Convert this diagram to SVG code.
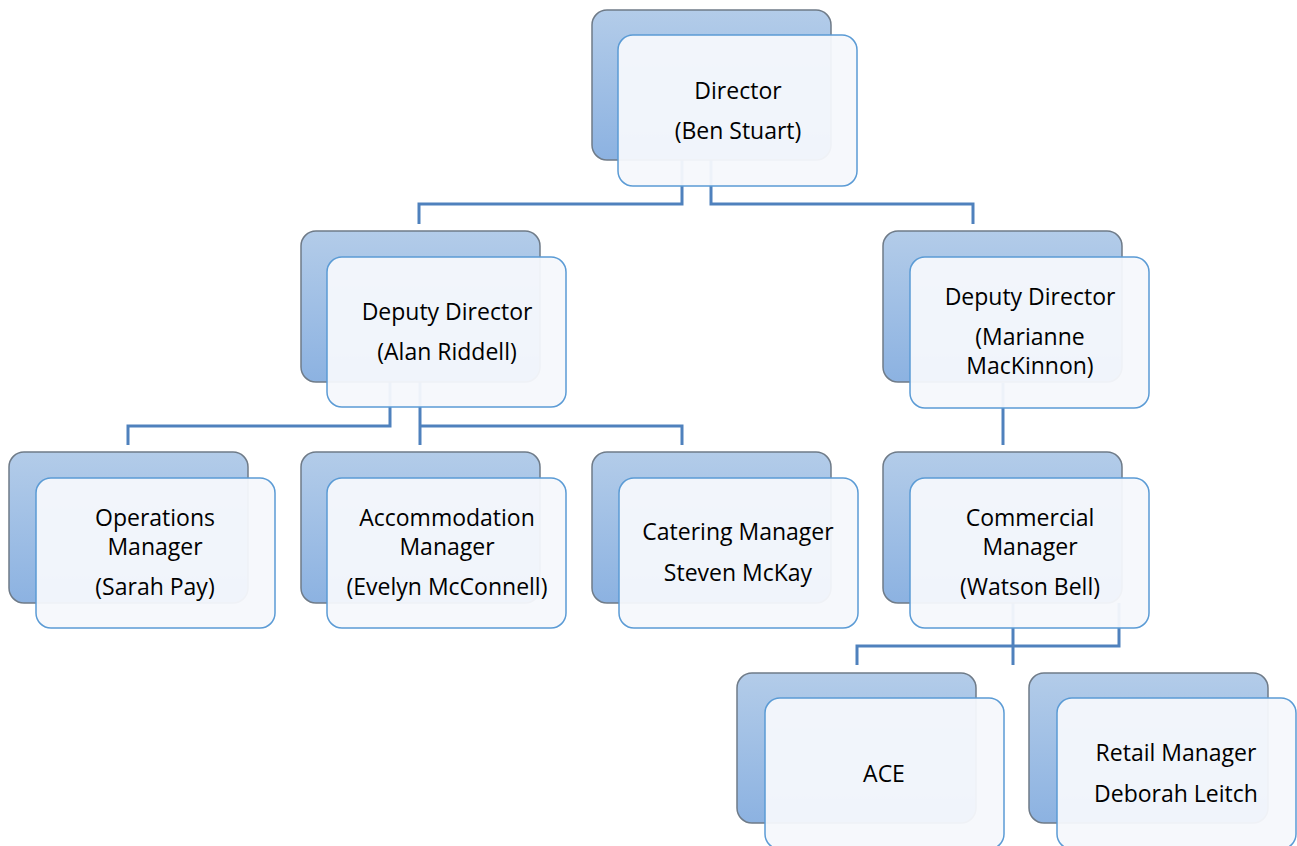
<svg xmlns="http://www.w3.org/2000/svg" width="1297" height="846" viewBox="0 0 1297 846">
<defs>
<linearGradient id="bg" x1="0" y1="0" x2="0" y2="1">
<stop offset="0" stop-color="#b3cce9"/>
<stop offset="1" stop-color="#8cb2e1"/>
</linearGradient>
<style>
.back{fill:url(#bg);stroke:#6f7b88;stroke-width:1.5}
.front{fill:#f5f8fc;fill-opacity:0.95;stroke:#5b9bd5;stroke-width:1.5}
.conn{fill:none;stroke:#4f81bd;stroke-width:3}
text{font-family:"Open Sans","Noto Sans",sans-serif;font-size:23px;fill:#000;text-anchor:middle}
</style>
</defs>
<rect width="1297" height="846" fill="#fff"/>
<g id="connectors">
<path class="conn" d="M682,160 V204 H419 V224"/>
<path class="conn" d="M711,160 V204 H973 V224"/>
<path class="conn" d="M390,381 V426 H128 V445"/>
<path class="conn" d="M420,381 V445"/>
<path class="conn" d="M420,426 H682 V445"/>
<path class="conn" d="M1003,383 V445"/>
<path class="conn" d="M1013,603 V665"/>
<path class="conn" d="M1119,603 V646 H857 V665"/>
</g>
<g id="director">
<rect class="back" x="592" y="10" width="239" height="150" rx="15"/>
<rect class="front" x="618" y="35" width="239" height="151" rx="15"/>
<text x="738" y="99">Director</text>
<text x="738" y="139">(Ben Stuart)</text>
</g>
<g id="deputy-alan">
<rect class="back" x="301" y="231" width="239" height="151" rx="15"/>
<rect class="front" x="327" y="257" width="239" height="150" rx="15"/>
<text x="447" y="320">Deputy Director</text>
<text x="447" y="360">(Alan Riddell)</text>
</g>
<g id="deputy-marianne">
<rect class="back" x="883" y="231" width="239" height="151" rx="15"/>
<rect class="front" x="910" y="257" width="239" height="151" rx="15"/>
<text x="1030" y="305">Deputy Director</text>
<text x="1030" y="345">(Marianne</text>
<text x="1030" y="374">MacKinnon)</text>
</g>
<g id="operations">
<rect class="back" x="9" y="452" width="239" height="151" rx="15"/>
<rect class="front" x="36" y="478" width="239" height="150" rx="15"/>
<text x="155" y="526">Operations</text>
<text x="155" y="555">Manager</text>
<text x="155" y="595">(Sarah Pay)</text>
</g>
<g id="accommodation">
<rect class="back" x="301" y="452" width="239" height="151" rx="15"/>
<rect class="front" x="327" y="478" width="239" height="150" rx="15"/>
<text x="447" y="526">Accommodation</text>
<text x="447" y="555">Manager</text>
<text x="447" y="595">(Evelyn McConnell)</text>
</g>
<g id="catering">
<rect class="back" x="592" y="452" width="239" height="151" rx="15"/>
<rect class="front" x="619" y="478" width="239" height="150" rx="15"/>
<text x="738" y="540">Catering Manager</text>
<text x="738" y="581">Steven McKay</text>
</g>
<g id="commercial">
<rect class="back" x="883" y="452" width="239" height="151" rx="15"/>
<rect class="front" x="910" y="478" width="239" height="150" rx="15"/>
<text x="1030" y="526">Commercial</text>
<text x="1030" y="555">Manager</text>
<text x="1030" y="595">(Watson Bell)</text>
</g>
<g id="ace">
<rect class="back" x="737" y="673" width="239" height="150" rx="15"/>
<rect class="front" x="765" y="698" width="239" height="151" rx="15"/>
<text x="884" y="782">ACE</text>
</g>
<g id="retail">
<rect class="back" x="1029" y="673" width="239" height="150" rx="15"/>
<rect class="front" x="1057" y="698" width="239" height="151" rx="15"/>
<text x="1176" y="761">Retail Manager</text>
<text x="1176" y="802">Deborah Leitch</text>
</g>
</svg>
